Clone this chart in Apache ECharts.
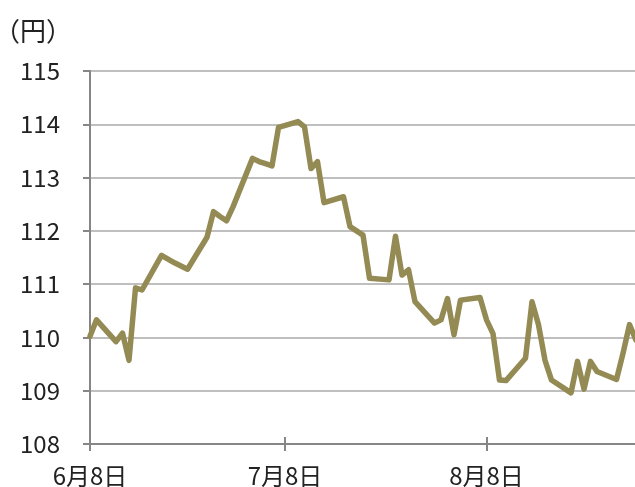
<!DOCTYPE html>
<html>
<head>
<meta charset="utf-8">
<script src="https://cdn.jsdelivr.net/npm/echarts@6/dist/echarts.min.js"></script>
<style>
  html, body { margin: 0; padding: 0; background: #fff; }
  #main { width: 635px; height: 487px; }
</style>
</head>
<body>
<div id="main"></div>
<script>
// ドル円（2017年6月8日〜8月31日、営業日）
var dates = [
  '2017-06-08','2017-06-09','2017-06-12','2017-06-13','2017-06-14','2017-06-15','2017-06-16',
  '2017-06-19','2017-06-20','2017-06-21','2017-06-22','2017-06-23',
  '2017-06-26','2017-06-27','2017-06-28','2017-06-29','2017-06-30',
  '2017-07-03','2017-07-04','2017-07-05','2017-07-06','2017-07-07',
  '2017-07-10','2017-07-11','2017-07-12','2017-07-13','2017-07-14',
  '2017-07-17','2017-07-18','2017-07-19','2017-07-20','2017-07-21',
  '2017-07-24','2017-07-25','2017-07-26','2017-07-27','2017-07-28',
  '2017-07-31','2017-08-01','2017-08-02','2017-08-03','2017-08-04',
  '2017-08-07','2017-08-08','2017-08-09','2017-08-10','2017-08-11',
  '2017-08-14','2017-08-15','2017-08-16','2017-08-17','2017-08-18',
  '2017-08-21','2017-08-22','2017-08-23','2017-08-24','2017-08-25',
  '2017-08-28','2017-08-29','2017-08-30','2017-08-31'
];
var usdjpy = [
  110.02, 110.33, 109.92, 110.08, 109.57, 110.93, 110.89,
  111.54, 111.47, 111.40, 111.34, 111.28,
  111.88, 112.36, 112.27, 112.19, 112.45,
  113.36, 113.30, 113.26, 113.22, 113.94,
  114.05, 113.95, 113.17, 113.30, 112.53,
  112.64, 112.08, 112.00, 111.92, 111.11,
  111.08, 111.90, 111.17, 111.27, 110.67,
  110.27, 110.33, 110.73, 110.05, 110.70,
  110.75, 110.33, 110.07, 109.20, 109.19,
  109.61, 110.67, 110.24, 109.57, 109.20,
  108.96, 109.55, 109.03, 109.55, 109.36,
  109.21, 109.70, 110.24, 109.95
];
var tickDates = ['2017-06-08', '2017-07-08', '2017-08-08'];
var axisStart = '2017-06-08';
var axisEnd = '2017-08-31';

// 日付 → 開始日からの日数（横軸は暦日）
var DAY = 86400000;
var t0 = Date.UTC(2017, 5, 8);
function dayNo(s) {
  var p = s.split('-');
  return Math.round((Date.UTC(+p[0], +p[1] - 1, +p[2]) - t0) / DAY);
}
var tickValues = tickDates.map(dayNo);
var lineData = dates.map(function (d, i) { return [dayNo(d), usdjpy[i]]; });

var axisColor = '#868686';
var font = '"Noto Sans CJK JP", "Noto Sans", sans-serif';

var chart = echarts.init(document.getElementById('main'));
chart.setOption({
  animation: false,
  textStyle: { fontFamily: font },
  graphic: [{
    type: 'text',
    x: -6,
    y: 31,
    style: {
      text: '（円）',
      fontSize: 26,
      fontFamily: font,
      fill: '#222',
      verticalAlign: 'middle'
    }
  }],
  grid: {
    left: 90,
    right: -1,
    top: 71,
    bottom: 43,
    containLabel: false,
    outerBoundsMode: 'none'
  },
  xAxis: [
    {
      type: 'value',
      position: 'bottom',
      min: dayNo(axisStart),
      max: dayNo(axisEnd),
      axisLine: { show: true, lineStyle: { color: axisColor, width: 2 } },
      axisTick: {
        show: true,
        customValues: tickValues,
        length: 7,
        lineStyle: { color: axisColor, width: 2 }
      },
      axisLabel: {
        customValues: tickValues,
        margin: 20,
        fontSize: 24,
        color: '#222',
        fontFamily: font,
        formatter: function (v) {
          var d = new Date(t0 + v * DAY);
          return (d.getUTCMonth() + 1) + '月' + d.getUTCDate() + '日';
        }
      },
      splitLine: { show: false }
    },
    {
      // 軸の内側に出る目盛り
      type: 'value',
      position: 'bottom',
      min: dayNo(axisStart),
      max: dayNo(axisEnd),
      axisLine: { show: false },
      axisTick: {
        show: true,
        inside: true,
        customValues: tickValues,
        length: 7,
        lineStyle: { color: axisColor, width: 2 }
      },
      axisLabel: { show: false },
      splitLine: { show: false }
    }
  ],
  yAxis: {
    type: 'value',
    min: 108,
    max: 115,
    interval: 1,
    axisLine: { show: true, lineStyle: { color: axisColor, width: 2 } },
    axisTick: { show: true, length: 7, lineStyle: { color: axisColor, width: 2 } },
    axisLabel: { margin: 30, fontSize: 24, color: '#222', fontFamily: font },
    splitLine: { show: true, lineStyle: { color: '#BFBFBF', width: 2 } }
  },
  series: [{
    type: 'line',
    xAxisIndex: 0,
    data: lineData,
    symbol: 'none',
    lineStyle: { color: '#948A54', width: 5.5, join: 'round', cap: 'round' },
    z: 5
  }]
});
</script>
</body>
</html>
